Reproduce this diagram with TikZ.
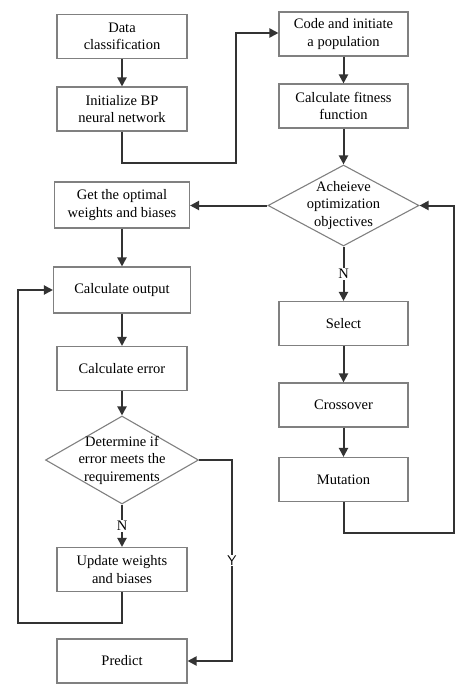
\documentclass[tikz,border=0pt]{standalone}
\usepackage{fontspec}
\setmainfont{Liberation Serif}
\usetikzlibrary{shapes.geometric,arrows.meta}
\begin{document}
\begin{tikzpicture}[x=1pt,y=-1pt,
  font=\fontsize{14.5}{17.5}\selectfont,
  box/.style={draw=black!50,line width=1.1pt,minimum width=130pt,minimum height=44pt,align=center,inner sep=2pt},
  dia/.style={draw=black!50,line width=1.1pt,diamond,inner sep=0pt},
  diatext/.style={label={[align=center]center:#1}},
  conn/.style={draw=black!80,line width=2pt,-{Triangle[length=9pt,width=9pt]}},
  lab/.style={fill=white,inner sep=1pt}]
\useasboundingbox (0,0) rectangle (455,688);
\node[box] (data) at (122,36.5) {Data\\classification};
\node[box] (init) at (122,109) {Initialize BP\\neural network};
\node[box,minimum width=129pt] (code) at (343.5,34) {Code and initiate\\a population};
\node[box,minimum width=129pt] (fit) at (343.5,106) {Calculate fitness\\function};
\node[dia,minimum width=151pt,minimum height=81pt,diatext={Acheieve\\optimization\\objectives}] (ach) at (343.5,205.5) {};
\node[box,minimum width=135pt,minimum height=46pt] (opt) at (122,205) {Get the optimal\\weights and biases};
\node[box,minimum width=137pt,minimum height=46pt] (out) at (122,290) {Calculate output};
\node[box] (err) at (122,368.5) {Calculate error};
\node[dia,minimum width=153pt,minimum height=88pt,diatext={Determine if\\error meets the\\requirements}] (det) at (122,460) {};
\node[box] (upd) at (122,569.5) {Update weights\\and biases};
\node[box] (pred) at (122,661) {Predict};
\node[box,minimum width=129pt] (sel) at (343.5,323.5) {Select};
\node[box,minimum width=129pt] (cro) at (343.5,405) {Crossover};
\node[box,minimum width=129pt] (mut) at (343.5,479.5) {Mutation};
\coordinate (c1) at (122,163);
\coordinate (c2) at (236,163);
\coordinate (c3) at (236,33);
\coordinate (m1) at (343.5,533);
\coordinate (m2) at (454,533);
\coordinate (m3) at (454,205.5);
\coordinate (y1) at (232,460);
\coordinate (y2) at (232,661);
\coordinate (u1) at (122,623);
\coordinate (u2) at (18,623);
\coordinate (u3) at (18,290);
\draw[conn] (data) -- (init);
\draw[conn] (init.south) -- (c1) -- (c2) -- (c3) -- (code.west|-c3);
\draw[conn] (code) -- (fit);
\draw[conn] (fit) -- (ach);
\draw[conn] (ach.west) -- (opt.east|-ach.west);
\draw[conn] (ach.south) -- node[lab]{N} (sel.north);
\draw[conn] (sel) -- (cro);
\draw[conn] (cro) -- (mut);
\draw[conn] (mut.south) -- (m1) -- (m2) -- (m3) -- (ach.east);
\draw[conn] (opt) -- (out);
\draw[conn] (out) -- (err);
\draw[conn] (err) -- (det);
\draw[conn] (det.south) -- node[lab]{N} (upd.north);
\draw[conn] (det.east) -- (y1) -- node[lab,font=\fontsize{14}{16}\sffamily]{Y} (y2) -- (pred.east);
\draw[conn] (upd.south) -- (u1) -- (u2) -- (u3) -- (out.west);
\end{tikzpicture}
\end{document}
